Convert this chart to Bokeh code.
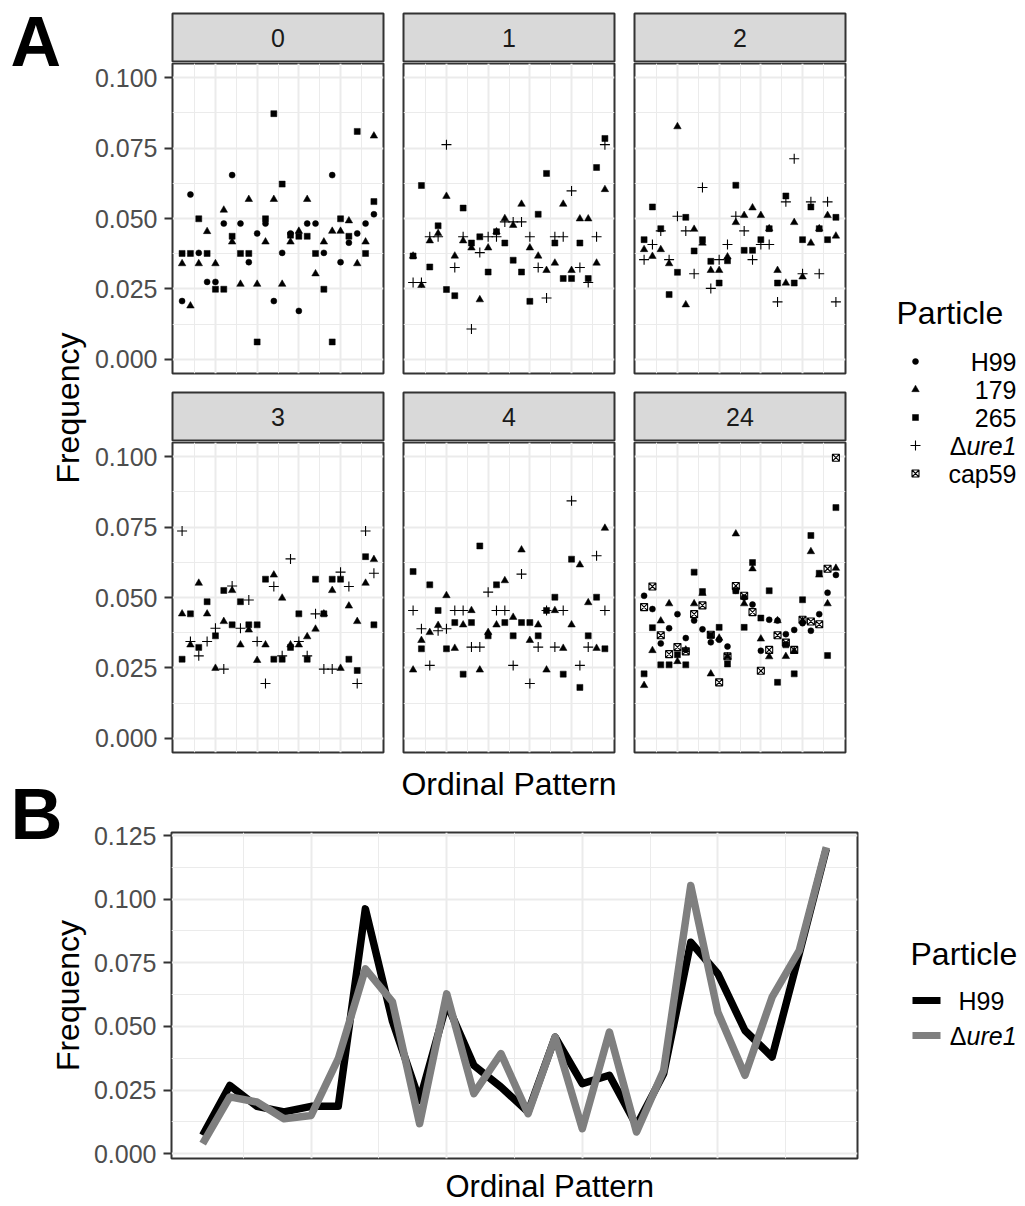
import math
from bokeh.plotting import figure
from bokeh.layouts import row, column
from bokeh.models import Range1d, FixedTicker, NumeralTickFormatter
from bokeh.core.properties import value
from bokeh.embed import file_html
from bokeh.resources import INLINE

FONT = "Liberation Sans"

# ---------------- data ----------------
PATTERNS = list(range(1, 25))

# Panel A, facet "0"
A0_H99 = [0.0207, 0.0585, 0.0378, 0.0275, 0.0275, 0.0482, 0.0654, 0.0482, 0.0345, 0.0447, 0.0482, 0.0207,
          0.0378, 0.0447, 0.0172, 0.0482, 0.0482, 0.0378, 0.0654, 0.0345, 0.0414, 0.0447, 0.0482, 0.0515]
A0_179 = [0.0340, 0.0190, 0.0340, 0.0454, 0.0340, 0.0530, 0.0417, 0.0267, 0.0568, 0.0267, 0.0417, 0.0568,
          0.0267, 0.0417, 0.0455, 0.0568, 0.0304, 0.0417, 0.0455, 0.0455, 0.0492, 0.0340, 0.0417, 0.0793]
A0_265 = [0.0376, 0.0376, 0.0499, 0.0376, 0.0249, 0.0249, 0.0437, 0.0376, 0.0376, 0.0062, 0.0499, 0.0872,
          0.0622, 0.0441, 0.0437, 0.0437, 0.0376, 0.0249, 0.0062, 0.0499, 0.0437, 0.0809, 0.0376, 0.0560]

# facet "1"
A1_179 = [0.0367, 0.0263, 0.0421, 0.0447, 0.0579, 0.0367, 0.0421, 0.0396, 0.0212, 0.0396, 0.0453, 0.0500,
          0.0476, 0.0551, 0.0396, 0.0367, 0.0316, 0.0342, 0.0551, 0.0316, 0.0499, 0.0499, 0.0342, 0.0603]
A1_265 = [0.0367, 0.0617, 0.0328, 0.0474, 0.0248, 0.0226, 0.0537, 0.0413, 0.0435, 0.0310, 0.0453, 0.0413,
          0.0352, 0.0310, 0.0206, 0.0515, 0.0660, 0.0413, 0.0287, 0.0287, 0.0413, 0.0287, 0.0681, 0.0784]
A1_URE1 = [0.0273, 0.0273, 0.0435, 0.0435, 0.0762, 0.0326, 0.0435, 0.0108, 0.0379, 0.0435, 0.0435, 0.0488,
           0.0488, 0.0488, 0.0435, 0.0326, 0.0218, 0.0435, 0.0435, 0.0598, 0.0326, 0.0273, 0.0435, 0.0762]

# facet "2"
A2_179 = [0.0390, 0.0366, 0.0390, 0.0340, 0.0826, 0.0194, 0.0462, 0.0413, 0.0316, 0.0316, 0.0364, 0.0486,
          0.0511, 0.0538, 0.0511, 0.0464, 0.0316, 0.0271, 0.0486, 0.0293, 0.0413, 0.0464, 0.0511, 0.0438]
A2_265 = [0.0425, 0.0541, 0.0464, 0.0230, 0.0309, 0.0504, 0.0385, 0.0425, 0.0348, 0.0271, 0.0350, 0.0618,
          0.0387, 0.0387, 0.0425, 0.0464, 0.0271, 0.0580, 0.0271, 0.0425, 0.0541, 0.0464, 0.0425, 0.0504]
A2_URE1 = [0.0354, 0.0408, 0.0456, 0.0354, 0.0508, 0.0456, 0.0304, 0.0610, 0.0252, 0.0354, 0.0408, 0.0508,
           0.0456, 0.0354, 0.0408, 0.0408, 0.0204, 0.0559, 0.0712, 0.0304, 0.0559, 0.0304, 0.0559, 0.0204]

# facet "3"
A3_179 = [0.0442, 0.0332, 0.0551, 0.0442, 0.0249, 0.0415, 0.0525, 0.0332, 0.0385, 0.0277, 0.0332, 0.0580,
          0.0498, 0.0332, 0.0332, 0.0361, 0.0388, 0.0442, 0.0525, 0.0249, 0.0470, 0.0415, 0.0551, 0.0635]
A3_265 = [0.0281, 0.0442, 0.0323, 0.0485, 0.0364, 0.0525, 0.0403, 0.0485, 0.0403, 0.0403, 0.0565, 0.0281,
          0.0281, 0.0323, 0.0442, 0.0281, 0.0565, 0.0442, 0.0565, 0.0565, 0.0281, 0.0241, 0.0645, 0.0403]
A3_URE1 = [0.0736, 0.0344, 0.0293, 0.0344, 0.0391, 0.0246, 0.0541, 0.0391, 0.0491, 0.0344, 0.0195, 0.0539,
           0.0293, 0.0637, 0.0344, 0.0293, 0.0442, 0.0246, 0.0246, 0.0590, 0.0539, 0.0195, 0.0736, 0.0586]

# facet "4"
A4_179 = [0.0243, 0.0348, 0.0376, 0.0401, 0.0507, 0.0320, 0.0403, 0.0454, 0.0243, 0.0376, 0.0403, 0.0560,
          0.0430, 0.0669, 0.0348, 0.0403, 0.0243, 0.0454, 0.0320, 0.0403, 0.0616, 0.0482, 0.0320, 0.0746]
A4_265 = [0.0592, 0.0318, 0.0545, 0.0454, 0.0318, 0.0411, 0.0228, 0.0411, 0.0683, 0.0364, 0.0545, 0.0411,
          0.0364, 0.0411, 0.0411, 0.0364, 0.0454, 0.0501, 0.0228, 0.0636, 0.0181, 0.0364, 0.0501, 0.0318]
A4_URE1 = [0.0454, 0.0389, 0.0259, 0.0382, 0.0389, 0.0454, 0.0454, 0.0324, 0.0324, 0.0519, 0.0454, 0.0454,
           0.0259, 0.0583, 0.0195, 0.0324, 0.0454, 0.0324, 0.0454, 0.0843, 0.0259, 0.0324, 0.0648, 0.0454]

# facet "24"
A24_H99 = [0.0506, 0.0459, 0.0337, 0.0391, 0.0441, 0.0356, 0.0418, 0.0387, 0.0341, 0.0350, 0.0326, 0.0524,
           0.0500, 0.0475, 0.0311, 0.0421, 0.0418, 0.0370, 0.0385, 0.0409, 0.0382, 0.0441, 0.0517, 0.0580]
A24_179 = [0.0188, 0.0312, 0.0417, 0.0478, 0.0273, 0.0314, 0.0478, 0.0515, 0.0229, 0.0356, 0.0290, 0.0726,
           0.0478, 0.0602, 0.0353, 0.0290, 0.0418, 0.0291, 0.0310, 0.0417, 0.0663, 0.0580, 0.0478, 0.0604]
A24_265 = [0.0229, 0.0393, 0.0261, 0.0261, 0.0297, 0.0261, 0.0590, 0.0521, 0.0366, 0.0394, 0.0264, 0.0524,
           0.0394, 0.0624, 0.0427, 0.0524, 0.0199, 0.0332, 0.0229, 0.0492, 0.0720, 0.0586, 0.0294, 0.0819]
A24_CAP59 = [0.0466, 0.0539, 0.0366, 0.0299, 0.0324, 0.0309, 0.0441, 0.0472, 0.0368, 0.0199, 0.0291, 0.0541,
             0.0506, 0.0448, 0.0240, 0.0314, 0.0366, 0.0340, 0.0314, 0.0421, 0.0415, 0.0405, 0.0602, 0.0996]

# Panel B
B_H99 = [0.0072, 0.0268, 0.0186, 0.0164, 0.0186, 0.0186, 0.0962, 0.0520, 0.0209, 0.0590, 0.0347, 0.0262,
         0.0164, 0.0458, 0.0275, 0.0308, 0.0111, 0.0314, 0.0831, 0.0707, 0.0484, 0.0380, 0.0785, 0.1198]
B_URE1 = [0.0039, 0.0223, 0.0203, 0.0137, 0.0150, 0.0373, 0.0726, 0.0596, 0.0118, 0.0628, 0.0236, 0.0393,
          0.0157, 0.0458, 0.0098, 0.0478, 0.0085, 0.0327, 0.1054, 0.0556, 0.0308, 0.0615, 0.0798, 0.1204]

FACET_LABELS = ["0", "1", "2", "3", "4", "24"]
FACET_SERIES = [
    [("H99", A0_H99), ("179", A0_179), ("265", A0_265)],
    [("179", A1_179), ("265", A1_265), ("ure1", A1_URE1)],
    [("179", A2_179), ("265", A2_265), ("ure1", A2_URE1)],
    [("179", A3_179), ("265", A3_265), ("ure1", A3_URE1)],
    [("179", A4_179), ("265", A4_265), ("ure1", A4_URE1)],
    [("H99", A24_H99), ("179", A24_179), ("265", A24_265), ("cap59", A24_CAP59)],
]
LEGEND_A = ["H99", "179", "265", "ure1", "cap59"]
LEGEND_B = ["H99", "ure1"]

Y_TICKS_A = [0.0, 0.025, 0.05, 0.075, 0.1]
Y_MINOR_A = [0.0125, 0.0375, 0.0625, 0.0875]
Y_TICKS_B = [0.0, 0.025, 0.05, 0.075, 0.1, 0.125]
Y_MINOR_B = [0.0125, 0.0375, 0.0625, 0.0875, 0.1125]
X_TICKS = [5, 10, 15, 20]
X_MINOR = [2.5, 7.5, 12.5, 17.5, 22.5]

MARK = {
    "H99": dict(marker="circle", size=6, fill_color="black", line_color="black", line_width=0.5),
    "179": dict(marker="triangle", size=7.5, fill_color="black", line_color="black", line_width=0.5),
    "265": dict(marker="square", size=6, fill_color="black", line_color="black", line_width=0.5),
    "ure1": dict(marker="cross", size=10, fill_color=None, line_color="black", line_width=1.1),
    "cap59": dict(marker="square_x", size=7, fill_color=None, line_color="black", line_width=1.1),
}

def style_grid(p, yt, ym):
    p.xgrid.ticker = FixedTicker(ticks=X_TICKS, minor_ticks=X_MINOR)
    p.ygrid.ticker = FixedTicker(ticks=yt, minor_ticks=ym)
    for g in (p.xgrid[0], p.ygrid[0]):
        g.grid_line_color = "#EBEBEB"
        g.grid_line_width = 2
        g.minor_grid_line_color = "#EBEBEB"
        g.minor_grid_line_width = 1

def style_yaxis(p, yt):
    ax = p.yaxis[0]
    ax.ticker = FixedTicker(ticks=yt)
    ax.formatter = NumeralTickFormatter(format="0.000")
    ax.major_label_text_font = FONT
    ax.major_label_text_font_size = "25px"
    ax.major_label_text_color = "#4D4D4D"
    ax.axis_line_color = None
    ax.major_tick_line_color = "#333333"
    ax.major_tick_line_width = 2
    ax.major_tick_in = 0
    ax.major_tick_out = 8
    ax.minor_tick_line_color = None
    ax.major_label_standoff = 7

def aux_fig(x0, x1, y0, y1):
    p = figure(width=x1 - x0, height=y1 - y0, x_range=Range1d(x0, x1), y_range=Range1d(y1, y0),
               output_backend="svg", toolbar_location=None, x_axis_location=None, y_axis_location=None,
               min_border=0, outline_line_color=None)
    p.grid.visible = False
    return p

def txt(p, x, y, s, size, align="left", baseline="middle", color="black", style="normal", angle=0.0):
    p.text(x=[x], y=[y], text=[s], text_font=value(FONT), text_font_size=value(size),
           text_align=align, text_baseline=baseline, text_color=color, text_font_style=style, angle=angle)

def strip_fig(col, label, top):
    left = 82 if col == 0 else 18
    p = figure(width=left + 211 + 2, height=top + 49, x_range=Range1d(0, 1), y_range=Range1d(0, 1),
               output_backend="svg", toolbar_location=None, x_axis_location=None, y_axis_location=None,
               min_border_left=left, min_border_right=2, min_border_top=top, min_border_bottom=0,
               background_fill_color="#D9D9D9", outline_line_color="#333333", outline_line_width=2)
    p.grid.visible = False
    txt(p, 0.5, 0.5, label, "25px", align="center", color="#1A1A1A")
    return p

def panel_fig(col, row_idx, series):
    left = 82 if col == 0 else 18
    bottom = 18 if row_idx == 0 else 2
    p = figure(width=left + 211 + 2, height=1 + 310 + bottom,
               x_range=Range1d(-0.15, 25.15), y_range=Range1d(-0.005, 0.105),
               output_backend="svg", toolbar_location=None, x_axis_location=None,
               y_axis_location="left" if col == 0 else None,
               min_border_left=left, min_border_right=2, min_border_top=1, min_border_bottom=bottom,
               background_fill_color="white", outline_line_color="#333333", outline_line_width=2)
    style_grid(p, Y_TICKS_A, Y_MINOR_A)
    if col == 0:
        style_yaxis(p, Y_TICKS_A)
    for name, ys in series:
        p.scatter(PATTERNS, ys, **MARK[name])
    return p

# ---------------- left labels ----------------
left = aux_fig(0, 90, 0, 1205)
txt(left, 10, 2, "A", "70px", baseline="top", style="bold")
txt(left, 10, 813, "B", "72px", style="bold")
txt(left, 67, 407.5, "Frequency", "32px", align="center", angle=math.pi / 2)
txt(left, 67, 995, "Frequency", "32px", align="center", angle=math.pi / 2)

# ---------------- panel A ----------------
strips1 = row([strip_fig(c, FACET_LABELS[c], 13) for c in range(3)], spacing=0)
panels1 = row([panel_fig(c, 0, FACET_SERIES[c]) for c in range(3)], spacing=0)
strips2 = row([strip_fig(c, FACET_LABELS[3 + c], 1) for c in range(3)], spacing=0)
panels2 = row([panel_fig(c, 1, FACET_SERIES[3 + c]) for c in range(3)], spacing=0)
xlabA = aux_fig(90, 847, 754, 800)
txt(xlabA, 508.5, 783, "Ordinal Pattern", "32px", align="center")
colA = column([strips1, panels1, strips2, panels2, xlabA], spacing=0)

legA = aux_fig(847, 1022, 0, 800)
txt(legA, 896, 312, "Particle", "32px")
leg_y = [361, 389, 417, 445, 473]
for name, yy in zip(LEGEND_A, leg_y):
    legA.scatter([915], [yy], **MARK[name])
    if name == "ure1":
        txt(legA, 1016, yy, "ure1", "25px", align="right", style="italic")
        txt(legA, 966, yy, "\u0394", "25px", align="right")
    else:
        txt(legA, 1016, yy, name, "25px", align="right")

# ---------------- panel B ----------------
figB = figure(width=81 + 686 + 2, height=32 + 326 + 9,
              x_range=Range1d(-0.15, 25.15), y_range=Range1d(-0.0019, 0.1262),
              output_backend="svg", toolbar_location=None, x_axis_location=None, y_axis_location="left",
              min_border_left=81, min_border_right=2, min_border_top=32, min_border_bottom=9,
              background_fill_color="white", outline_line_color="#333333", outline_line_width=2)
style_grid(figB, Y_TICKS_B, Y_MINOR_B)
style_yaxis(figB, Y_TICKS_B)
figB.line(PATTERNS, B_H99, line_color="black", line_width=7.5, line_join="round")
figB.line(PATTERNS, B_URE1, line_color="#7F7F7F", line_width=7.5, line_join="round")
xlabB = aux_fig(90, 859, 1167, 1205)
txt(xlabB, 514, 1186, "Ordinal Pattern", "31px", align="center")
colB = column([figB, xlabB], spacing=0)

legB = aux_fig(859, 1022, 800, 1205)
txt(legB, 910, 953, "Particle", "32px")
legB.line([912, 940], [1000, 1000], line_color="black", line_width=7)
legB.line([912, 940], [1035, 1035], line_color="#7F7F7F", line_width=7)
txt(legB, 981, 1000, "H99", "25px", align="center")
txt(legB, 966, 1035, "\u0394", "25px", align="right")
txt(legB, 966, 1035, "ure1", "25px", align="left", style="italic")

layout = row([left, column([row([colA, legA], spacing=0), row([colB, legB], spacing=0)], spacing=0)], spacing=0)

open("out.html", "w").write(file_html(layout, INLINE))
